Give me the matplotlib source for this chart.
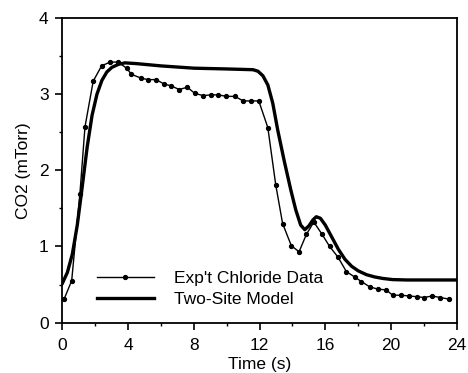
import matplotlib
matplotlib.use("Agg")
import matplotlib.pyplot as plt
from matplotlib.ticker import MultipleLocator

plt.rcParams['font.family'] = ['Liberation Sans', 'DejaVu Sans']

# Experimental chloride data
exp_t = [0.1, 0.56, 1.06, 1.37, 1.87, 2.38, 2.89, 3.39, 3.9, 4.2, 4.77, 5.2, 5.7,
         6.2, 6.6, 7.1, 7.6, 8.05, 8.56, 9.07, 9.47, 9.98, 10.5, 11.0, 11.5, 11.95,
         12.5, 12.98, 13.4, 13.93, 14.4, 14.85, 15.3, 15.8, 16.26, 16.77, 17.28,
         17.78, 18.19, 18.7, 19.2, 19.7, 20.1, 20.6, 21.1, 21.6, 22.0, 22.5, 23.0, 23.5]
exp_co2 = [0.31, 0.55, 1.69, 2.57, 3.17, 3.37, 3.42, 3.42, 3.34, 3.26, 3.21, 3.19, 3.19,
           3.13, 3.11, 3.06, 3.09, 3.01, 2.98, 2.99, 2.99, 2.97, 2.97, 2.91, 2.91, 2.91,
           2.56, 1.81, 1.30, 1.01, 0.93, 1.16, 1.32, 1.16, 1.00, 0.86, 0.67,
           0.60, 0.54, 0.47, 0.44, 0.43, 0.36, 0.36, 0.35, 0.34, 0.33, 0.35, 0.33, 0.31]

# Two-site model
mod_t = [0.0, 0.3, 0.6, 0.9, 1.2, 1.5, 1.8, 2.1, 2.4, 2.7, 3.0, 3.4, 3.8, 4.5, 6.0,
         8.0, 10.0, 11.6, 11.9, 12.2, 12.5, 12.8, 13.1, 13.5, 13.9, 14.2, 14.5,
         14.75, 15.0, 15.25, 15.45, 15.7, 16.0, 16.4, 16.8, 17.2, 17.6, 18.0, 18.5,
         19.0, 19.5, 20.1, 21.0, 24.0]
mod_co2 = [0.52, 0.66, 0.90, 1.28, 1.78, 2.30, 2.72, 3.00, 3.18, 3.29, 3.35, 3.39, 3.41,
           3.40, 3.37, 3.34, 3.33, 3.32, 3.30, 3.24, 3.12, 2.88, 2.53, 2.12, 1.74,
           1.48, 1.28, 1.22, 1.27, 1.35, 1.39, 1.37, 1.28, 1.12, 0.96, 0.83, 0.74,
           0.68, 0.63, 0.60, 0.58, 0.565, 0.56, 0.56]

fig = plt.figure(figsize=(4.68, 3.73), dpi=100)
ax = fig.add_axes([0.1335, 0.135, 0.8425, 0.817])

ax.plot(exp_t, exp_co2, color='black', lw=1.0, marker='o', ms=2.8,
        label="Exp't Chloride Data")
ax.plot(mod_t, mod_co2, color='black', lw=2.4, label='Two-Site Model')

ax.set_xlim(0, 24)
ax.set_ylim(0, 4)
ax.xaxis.set_major_locator(MultipleLocator(4))
ax.xaxis.set_minor_locator(MultipleLocator(2))
ax.yaxis.set_major_locator(MultipleLocator(1))
ax.yaxis.set_minor_locator(MultipleLocator(0.5))
ax.tick_params(which='major', direction='out', length=5, width=1.2, labelsize=12.5)
ax.tick_params(axis='x', which='major', pad=6)
ax.tick_params(axis='y', which='major', pad=5)
ax.tick_params(which='minor', direction='out', length=2.5, width=1.0)
for s in ax.spines.values():
    s.set_linewidth(1.3)

ax.set_xlabel('Time (s)', fontsize=12.5, labelpad=3)
ax.set_ylabel('CO2 (mTorr)', fontsize=12.5, labelpad=6)

ax.legend(loc='lower left', bbox_to_anchor=(0.047, 0.0), frameon=False, fontsize=12.5,
          handlelength=3.3, handletextpad=1.15, labelspacing=0.35)

fig.savefig('out.png', dpi=100)
